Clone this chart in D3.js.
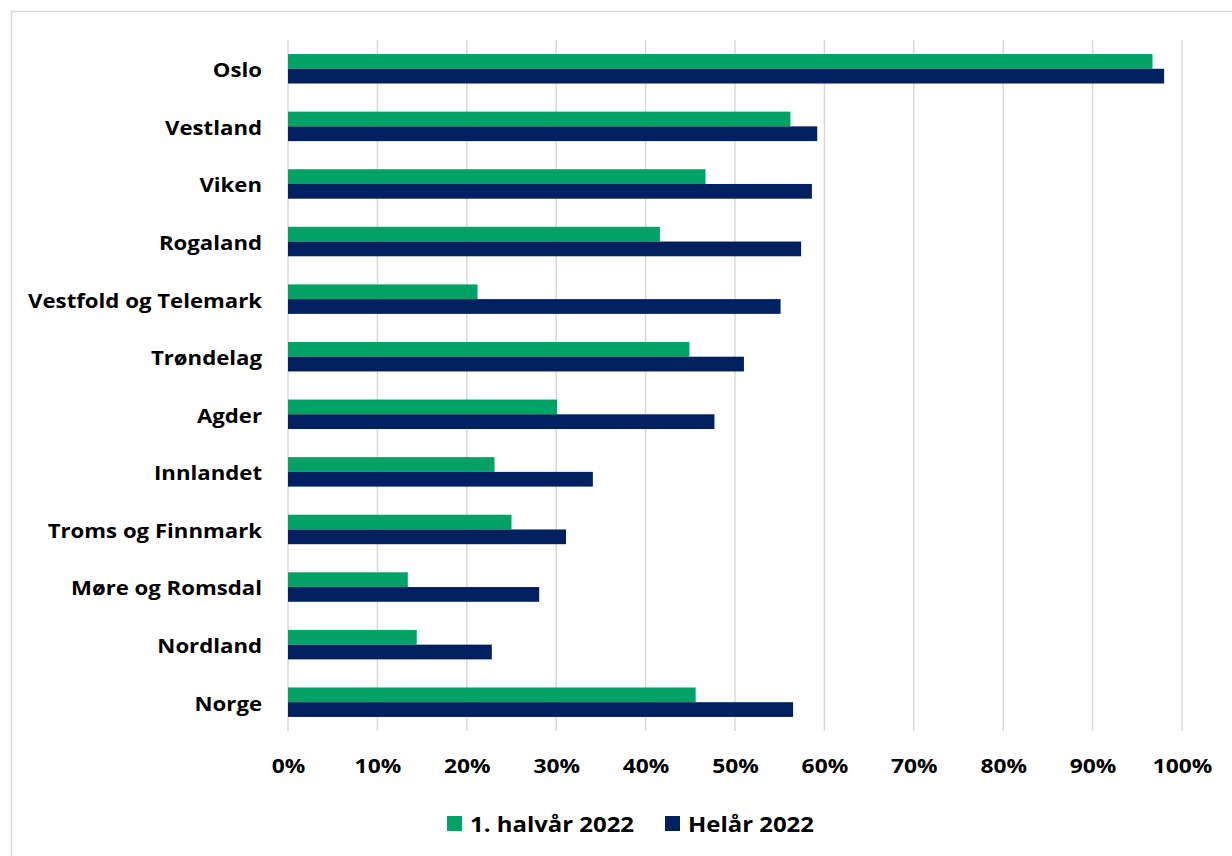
<!DOCTYPE html>
<html>
<head>
<meta charset="utf-8">
<script src="https://cdn.jsdelivr.net/npm/d3@7"></script>
<style>
  html, body { margin: 0; padding: 0; background: #fff; }
  svg text { font-family: "Open Sans", "Noto Sans", sans-serif; font-weight: 700; fill: #000; }
</style>
</head>
<body>
<svg id="chart" width="1232" height="856"></svg>
<script>
// Regions, top to bottom
const regions = [
  "Oslo", "Vestland", "Viken", "Rogaland", "Vestfold og Telemark", "Trøndelag",
  "Agder", "Innlandet", "Troms og Finnmark", "Møre og Romsdal", "Nordland", "Norge"
];
// Share (%) per region
const halfYear2022 = [96.7, 56.2, 46.7, 41.6, 21.2, 44.9, 30.1, 23.1, 25.0, 13.4, 14.4, 45.6];
const fullYear2022 = [98.0, 59.2, 58.6, 57.4, 55.1, 51.0, 47.7, 34.1, 31.1, 28.1, 22.8, 56.5];
const seriesNames = ["1. halvår 2022", "Helår 2022"];
const xTicks = [0, 10, 20, 30, 40, 50, 60, 70, 80, 90, 100];

const colors = ["#00A266", "#002060"];
const series = [halfYear2022, fullYear2022];

const svg = d3.select("#chart");

// outer frame
svg.append("rect")
  .attr("x", 11.5).attr("y", 11.5)
  .attr("width", 1240).attr("height", 860)
  .attr("fill", "none").attr("stroke", "#d9d9d9").attr("stroke-width", 1.5);

const plotLeft = 288, plotRight = 1182, plotTop = 40, plotBottom = 731;

const x = d3.scaleLinear().domain([0, 100]).range([plotLeft, plotRight]);
const y = d3.scaleBand().domain(regions).range([plotTop, plotBottom])
  .paddingInner(0.488).paddingOuter(0.244);
const ySub = d3.scaleBand().domain(d3.range(series.length)).range([0, y.bandwidth()]);

// vertical gridlines
svg.append("g")
  .selectAll("line")
  .data(xTicks)
  .join("line")
  .attr("x1", d => x(d)).attr("x2", d => x(d))
  .attr("y1", plotTop).attr("y2", plotBottom)
  .attr("stroke", "#d9d9d9").attr("stroke-width", 1.5);

// bars
const groups = svg.append("g")
  .selectAll("g")
  .data(regions)
  .join("g")
  .attr("transform", d => `translate(0,${y(d)})`);

groups.selectAll("rect")
  .data((d, i) => series.map((s, k) => ({ k, v: s[i] })))
  .join("rect")
  .attr("x", x(0))
  .attr("y", d => ySub(d.k))
  .attr("width", d => x(d.v) - x(0))
  .attr("height", ySub.bandwidth())
  .attr("fill", d => colors[d.k]);

// category axis labels (slightly widened bold face)
const labelPad = 26;
const yAxis = d3.axisLeft(y).tickSize(0).tickPadding(labelPad);
const gy = svg.append("g").attr("transform", `translate(${plotLeft},0)`).call(yAxis);
gy.select(".domain").remove();
gy.selectAll("text")
  .attr("font-size", 20).attr("font-family", null).attr("fill", "#000")
  .attr("dy", "0.42em")
  .attr("transform", `translate(${-labelPad},0) scale(1.11,1) translate(${labelPad},0)`);

// value axis labels
const xAxis = d3.axisBottom(x).tickValues(xTicks).tickFormat(d => d + "%").tickSize(0).tickPadding(28);
const gx = svg.append("g").attr("transform", `translate(0,${plotBottom})`).call(xAxis);
gx.select(".domain").remove();
gx.selectAll("text")
  .attr("font-size", 20).attr("font-family", null).attr("fill", "#000")
  .attr("transform", "scale(1.14,1)");

// legend
const legendItems = [
  { name: seriesNames[0], color: colors[0], x: 447 },
  { name: seriesNames[1], color: colors[1], x: 665 }
];
const lg = svg.append("g");
legendItems.forEach(it => {
  lg.append("rect").attr("x", it.x).attr("y", 816).attr("width", 15).attr("height", 15).attr("fill", it.color);
  const tx = it.x + 23;
  lg.append("text").attr("x", tx).attr("y", 824).attr("dy", "0.36em")
    .attr("font-size", 21)
    .attr("transform", `translate(${tx},0) scale(1.14,1) translate(${-tx},0)`)
    .text(it.name);
});
</script>
</body>
</html>
